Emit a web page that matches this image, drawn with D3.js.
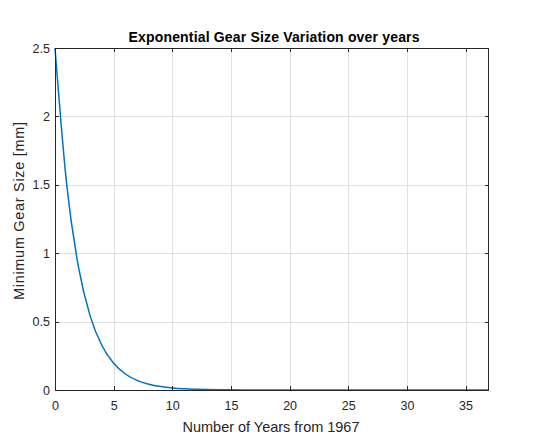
<!DOCTYPE html>
<html><head><meta charset="utf-8">
<script src="https://cdn.jsdelivr.net/npm/d3@7"></script>
<style>body{margin:0;background:#fff;} svg{display:block;font-family:"Liberation Sans",Arial,sans-serif;}</style>
</head><body>
<script>
const years = [0,1,2,3,4,5,6,7,8,9,10,11,12,13,14,15,16,17,18,19,20,21,22,23,24,25,26,27,28,29,30,31,32,33,34,35,36,37];
const gearSize = [2.5,1.50,0.90,0.54,0.325,0.195,0.117,0.070,0.042,0.025,0.0152,0.0091,0.0055,0.0033,0.0020,0.0012,0.0007,0.0004,0.0003,0.0002,0.0001,0.0001,0,0,0,0,0,0,0,0,0,0,0,0,0,0,0,0];
const xTicks = [0,5,10,15,20,25,30,35];
const yTicks = [0,0.5,1,1.5,2,2.5];
const titleText = "Exponential Gear Size Variation over years";
const xLabel = "Number of Years from 1967";
const yLabel = "Minimum Gear Size [mm]";

const W=537,H=444, L=55, R=489, T=48, B=390;
const svg=d3.select("body").append("svg").attr("width",W).attr("height",H);
const x=d3.scaleLinear().domain([0,37]).range([L,R]);
const y=d3.scaleLinear().domain([0,2.5]).range([B,T]);
const g=svg.append("g");
// grid
g.selectAll(".gx").data(xTicks.filter(d=>d>0)).enter().append("line")
 .attr("x1",d=>Math.round(x(d))+0.5).attr("x2",d=>Math.round(x(d))+0.5).attr("y1",T).attr("y2",B).attr("stroke","#dfdfdf").attr("stroke-width",1);
g.selectAll(".gy").data(yTicks.filter(d=>d>0&&d<2.5)).enter().append("line")
 .attr("y1",d=>Math.round(y(d))+0.5).attr("y2",d=>Math.round(y(d))+0.5).attr("x1",L).attr("x2",R).attr("stroke","#dfdfdf").attr("stroke-width",1);
// line
const line=d3.line().x((d,i)=>x(years[i])).y(d=>y(d)).curve(d3.curveMonotoneX);
g.append("path").attr("d",line(gearSize)).attr("fill","none").attr("stroke","#0072BD").attr("stroke-width",1.5);
// box
const ax="#262626";
g.append("rect").attr("x",L+0.5).attr("y",T+0.5).attr("width",R-L-1).attr("height",B-T).attr("fill","none").attr("stroke",ax).attr("stroke-width",1);
// ticks inward
const tl=4;
xTicks.forEach(d=>{
  const xx=Math.round(x(d))+0.5;
  g.append("line").attr("x1",xx).attr("x2",xx).attr("y1",B).attr("y2",B-tl).attr("stroke",ax);
  g.append("line").attr("x1",xx).attr("x2",xx).attr("y1",T).attr("y2",T+tl).attr("stroke",ax);
});
yTicks.forEach(d=>{
  const yy=Math.round(y(d))+0.5;
  g.append("line").attr("x1",L).attr("x2",L+tl).attr("y1",yy).attr("y2",yy).attr("stroke",ax);
  g.append("line").attr("x1",R).attr("x2",R-tl).attr("y1",yy).attr("y2",yy).attr("stroke",ax);
});
// tick labels
g.selectAll(".xl").data(xTicks).enter().append("text").attr("x",d=>x(d)+0.5).attr("y",B+20).attr("text-anchor","middle")
 .attr("font-size",12.5).attr("fill",ax).text(d=>d);
g.selectAll(".yl").data(yTicks).enter().append("text").attr("x",L-5).attr("y",d=>y(d)+4.5).attr("text-anchor","end")
 .attr("font-size",12.5).attr("fill",ax).text(d=>d);
// labels
svg.append("text").attr("x",274).attr("y",42).attr("text-anchor","middle").attr("font-size",14).attr("font-weight","bold").attr("fill","#000")
 .attr("textLength",291).attr("lengthAdjust","spacing").text(titleText);
svg.append("text").attr("x",271).attr("y",432).attr("text-anchor","middle").attr("font-size",14.5).attr("fill",ax)
 .attr("textLength",177).attr("lengthAdjust","spacing").text(xLabel);
svg.append("text").attr("transform",`translate(23.5,211) rotate(-90)`).attr("text-anchor","middle").attr("font-size",14.5).attr("fill",ax)
 .attr("textLength",178).attr("lengthAdjust","spacing").text(yLabel);
</script>
</body></html>
